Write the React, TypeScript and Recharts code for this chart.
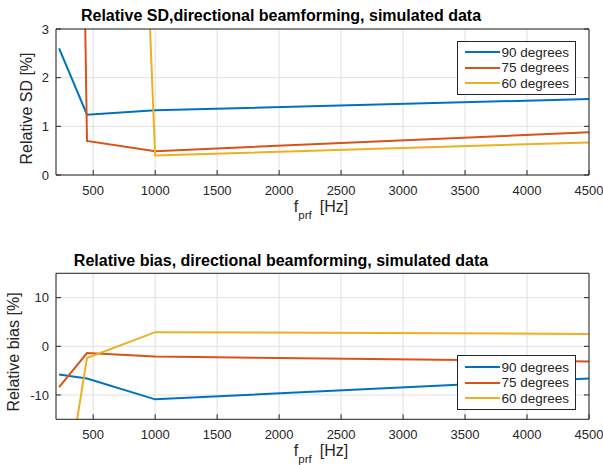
import React from "react";
import { LineChart, Line, XAxis, YAxis, CartesianGrid, Legend, Label } from "recharts";

// pulse repetition frequencies [Hz]
const fprf = [225, 450, 1000, 4500];

// relative standard deviation [%]
const sd90 = [2.6, 1.24, 1.33, 1.56];
const sd75 = [38, 0.7, 0.49, 0.88];
const sd60 = [55, 35, 0.4, 0.67];

// relative bias [%]
const bias90 = [-5.8, -6.6, -10.9, -6.6];
const bias75 = [-8.4, -1.4, -2.1, -3.1];
const bias60 = [-38, -2.4, 2.9, 2.55];

const xTicks = [500, 1000, 1500, 2000, 2500, 3000, 3500, 4000, 4500];
const sdTicks = [0, 1, 2, 3];
const biasTicks = [-10, 0, 10];

const series = [
  { key: "a90", name: "90 degrees", color: "#0072BD" },
  { key: "a75", name: "75 degrees", color: "#D95319" },
  { key: "a60", name: "60 degrees", color: "#EDB120" },
];

const sdRows = fprf.map((f, i) => ({ fprf: f, a90: sd90[i], a75: sd75[i], a60: sd60[i] }));
const biasRows = fprf.map((f, i) => ({ fprf: f, a90: bias90[i], a75: bias75[i], a60: bias60[i] }));

const FONT = '"Liberation Sans", Arial, Helvetica, sans-serif';
const INK = "#262626";
const GRID = "#e0e0e0";
const TICK_LEN = 5;
const X_GAP = 10.5;
const Y_GAP = 7;

function BottomTick(props: any) {
  const { x, y, payload } = props;
  const axisY = y - X_GAP;
  return (
    <g>
      <line x1={x} x2={x} y1={axisY} y2={axisY - TICK_LEN} stroke={INK} />
      <text x={x} y={y} dy="0.71em" textAnchor="middle" fill={INK} fontSize={13} fontFamily={FONT}>
        {payload.value}
      </text>
    </g>
  );
}

function LeftTick(props: any) {
  const { x, y, payload } = props;
  const axisX = x + Y_GAP;
  return (
    <g>
      <line x1={axisX} x2={axisX + TICK_LEN} y1={y} y2={y} stroke={INK} />
      <text x={x} y={y} dy="0.355em" textAnchor="end" fill={INK} fontSize={13} fontFamily={FONT}>
        {payload.value}
      </text>
    </g>
  );
}

const NoTick = () => <g />;

function LegendBox({ payload }: any) {
  const items = [...(payload || [])].sort(
    (a: any, b: any) =>
      series.findIndex((s) => s.name === a.value) - series.findIndex((s) => s.name === b.value)
  );
  return (
    <div
      style={{
        width: 119,
        boxSizing: "border-box",
        border: `1px solid ${INK}`,
        background: "#fff",
        padding: "3px 0 3px 7px",
        fontFamily: FONT,
        fontSize: 13.5,
        color: INK,
      }}
    >
      {items.map((it: any) => (
        <div key={it.value} style={{ display: "flex", alignItems: "center", height: 15.5, whiteSpace: "nowrap" }}>
          <span style={{ display: "inline-block", width: 35, height: 2, background: it.color, marginRight: 2 }} />
          <span>{it.value}</span>
        </div>
      ))}
    </div>
  );
}

type PanelProps = {
  rows: any[];
  height: number;
  top: number;
  yDomain: [number, number];
  yTicks: number[];
  title: string;
  titleY: number;
  yLabel: string;
  yLabelX: number;
  yLabelY: number;
  xLabelY: number;
  legendTop: number;
};

function Panel(p: PanelProps) {
  return (
    <LineChart
      width={603}
      height={p.height}
      data={p.rows}
      margin={{ top: p.top, right: 14, bottom: p.height - p.top - 146 - 30, left: 16 }}
    >
      <CartesianGrid xAxisId="x" yAxisId="y" stroke={GRID} strokeWidth={1} />
      <XAxis
        xAxisId="x"
        dataKey="fprf"
        type="number"
        domain={[200, 4500]}
        ticks={xTicks}
        allowDataOverflow
        height={30}
        tickSize={0}
        tickMargin={X_GAP}
        tickLine={false}
        tick={BottomTick}
        axisLine={{ stroke: INK }}
        interval={0}
      >
        <Label
          content={() => (
            <text x={321} y={p.xLabelY} textAnchor="middle" fill={INK} fontSize={16} fontFamily={FONT}>
              f
              <tspan fontSize={11.5} dy={7}>
                prf
              </tspan>
              <tspan dx={8} dy={-7}>
                [Hz]
              </tspan>
            </text>
          )}
        />
      </XAxis>
      <XAxis
        xAxisId="top"
        orientation="top"
        type="number"
        domain={[200, 4500]}
        ticks={xTicks}
        allowDataOverflow
        mirror
        tickSize={TICK_LEN}
        tick={NoTick}
        tickLine={{ stroke: INK }}
        axisLine={{ stroke: INK }}
        interval={0}
      >
        <Label
          content={() => (
            <text x={281} y={p.titleY} textAnchor="middle" fill="#000" fontSize={16} fontWeight="bold" fontFamily={FONT}>
              {p.title}
            </text>
          )}
        />
      </XAxis>
      <YAxis
        yAxisId="y"
        type="number"
        domain={p.yDomain}
        ticks={p.yTicks}
        allowDataOverflow
        width={40}
        tickSize={0}
        tickMargin={Y_GAP}
        tickLine={false}
        tick={LeftTick}
        axisLine={{ stroke: INK }}
        interval={0}
      >
        <Label
          content={() => (
            <text
              x={p.yLabelX}
              y={p.yLabelY}
              transform={`rotate(-90 ${p.yLabelX} ${p.yLabelY})`}
              textAnchor="middle"
              fill={INK}
              fontSize={16}
              fontFamily={FONT}
            >
              {p.yLabel}
            </text>
          )}
        />
      </YAxis>
      <YAxis
        yAxisId="right"
        orientation="right"
        type="number"
        domain={p.yDomain}
        ticks={p.yTicks}
        allowDataOverflow
        mirror
        tickSize={TICK_LEN}
        tick={NoTick}
        tickLine={{ stroke: INK }}
        axisLine={{ stroke: INK }}
        interval={0}
      />
      {series.map((s) => (
        <Line
          key={s.key}
          xAxisId="x"
          yAxisId="y"
          type="linear"
          dataKey={s.key}
          name={s.name}
          stroke={s.color}
          strokeWidth={2}
          dot={false}
          activeDot={false}
          isAnimationActive={false}
        />
      ))}
      <Legend
        layout="vertical"
        align="center"
        verticalAlign="middle"
        content={LegendBox}
        wrapperStyle={{ top: p.legendTop, left: 456.5, width: "auto", height: "auto" }}
      />
    </LineChart>
  );
}

export default function App() {
  return (
    <div style={{ position: "absolute", left: 0, top: 0, width: 603, height: 465, background: "#fff" }}>
      <div style={{ position: "absolute", left: 0, top: 0 }}>
        <Panel
          rows={sdRows}
          height={232}
          top={29}
          yDomain={[0, 3]}
          yTicks={sdTicks}
          title="Relative SD,directional beamforming, simulated data"
          titleY={20.5}
          yLabel="Relative SD [%]"
          yLabelX={32}
          yLabelY={108.5}
          xLabelY={212}
          legendTop={40.5}
        />
      </div>
      <div style={{ position: "absolute", left: 0, top: 232 }}>
        <Panel
          rows={biasRows}
          height={233}
          top={41.3}
          yDomain={[-15, 15]}
          yTicks={biasTicks}
          title="Relative bias, directional beamforming, simulated data"
          titleY={34}
          yLabel="Relative bias [%]"
          yLabelX={19}
          yLabelY={120}
          xLabelY={224}
          legendTop={123.3}
        />
      </div>
    </div>
  );
}
